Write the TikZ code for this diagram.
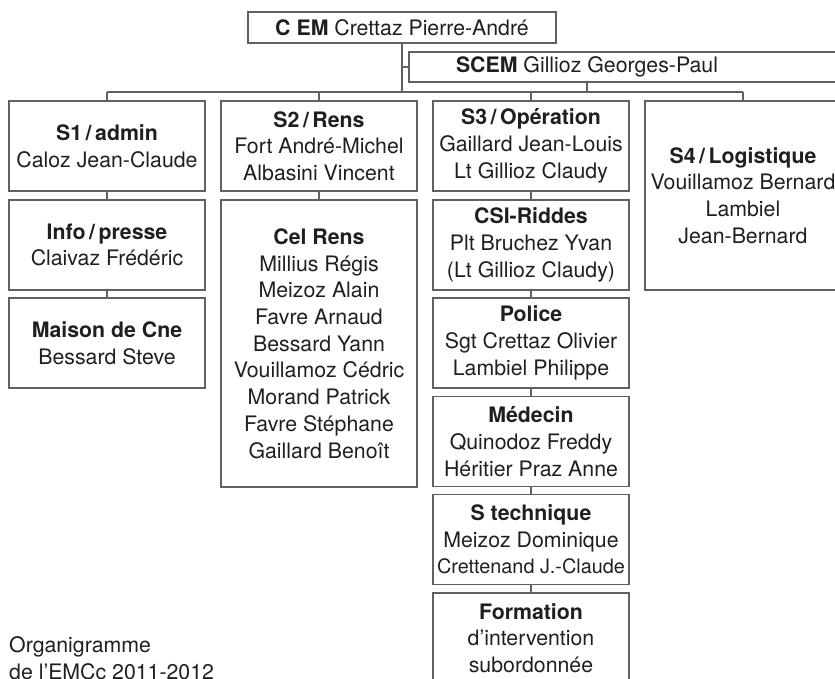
\documentclass[tikz,border=0pt]{standalone}
\usepackage{fontspec}
\setmainfont{TeX Gyre Heros}
\newcommand\orgfs{\fontsize{21.3}{26.7}\selectfont}
\begin{document}
\begin{tikzpicture}[x=1pt,y=-1pt,
  line/.style={draw=black!62, line width=1.1pt},
  box/.style={line, minimum width=196pt, minimum height=90pt, inner sep=0pt, outer sep=0pt, align=center, text=black!88, font=\orgfs},
  txt/.style={inner sep=0pt, text=black!88, font=\orgfs}]
\useasboundingbox (0,0) rectangle (835,679);
\clip (0,0) rectangle (835,679);
% top
\node[box, minimum width=308pt, minimum height=31pt] (cem) at (402,27.5) {\textbf{C EM} Crettaz Pierre-André};
\node[box, minimum width=470pt, minimum height=30pt, anchor=west] (scem) at (409,67) {};
\node[txt] (scemlabel) at (587,67) {\textbf{SCEM} Gillioz Georges-Paul};
\coordinate (busL) at (107,92);
% column 1
\node[box] (s1) at (107,146) {\textbf{S1\,/\,admin}\\Caloz Jean-Claude};
\node[box] (info) at (107,245) {\textbf{Info\,/\,presse}\\Claivaz Frédéric};
\node[box] (maison) at (107,343) {\textbf{Maison de Cne}\\Bessard Steve};
% column 2
\node[box] (s2) at (319,146) {\textbf{S2\,/\,Rens}\\Fort André-Michel\\Albasini Vincent};
\node[box, minimum height=287pt] (cel) at (319,343.5) {\textbf{Cel Rens}\\Millius Régis\\Meizoz Alain\\Favre Arnaud\\Bessard Yann\\Vouillamoz Cédric\\Morand Patrick\\Favre Stéphane\\Gaillard Benoît};
% column 3
\node[box] (s3) at (531,146) {\textbf{S3\,/\,Opération}\\Gaillard Jean-Louis\\Lt Gillioz Claudy};
\node[box] (csi) at (531,245) {\textbf{CSI-Riddes}\\Plt Bruchez Yvan\\(Lt Gillioz Claudy)};
\node[box] (police) at (531,343) {\textbf{Police}\\Sgt Crettaz Olivier\\Lambiel Philippe};
\node[box] (med) at (531,441.5) {\textbf{Médecin}\\Quinodoz Freddy\\Héritier Praz Anne};
\node[box] (stech) at (531,539.5) {\textbf{S technique}\\Meizoz Dominique\\\resizebox{188pt}{!}{Crettenand J.-Claude}};
\node[box] (form) at (531,638) {\textbf{Formation}\\d'intervention\\subordonnée};
% column 4
\node[box, minimum height=189pt] (s4) at (743,195.5) {\textbf{S4\,/\,Logistique}\\Vouillamoz Bernard\\Lambiel\\Jean-Bernard};
% caption
\node[txt, anchor=base west] (cap1) at (9,652) {Organigramme};
\node[txt, anchor=base west] (cap2) at (9,679) {de l'EMCc 2011-2012};
% connectors
\draw[line] (cem.south) -- (cem.south |- busL);
\draw[line] (cem.south |- scem.west) -- (scem.west);
\draw[line] (scemlabel |- scem.south) -- (scemlabel |- busL);
\draw[line] (busL) -- (s4.north |- busL);
\draw[line] (s1.north |- busL) -- (s1.north);
\draw[line] (s2.north |- busL) -- (s2.north);
\draw[line] (s3.north |- busL) -- (s3.north);
\draw[line] (s4.north |- busL) -- (s4.north);
\draw[line] (s1) -- (info);
\draw[line] (info) -- (maison);
\draw[line] (s2) -- (cel);
\draw[line] (s3) -- (csi);
\draw[line] (csi) -- (police);
\draw[line] (police) -- (med);
\draw[line] (med) -- (stech);
\draw[line] (stech) -- (form);
\end{tikzpicture}
\end{document}
